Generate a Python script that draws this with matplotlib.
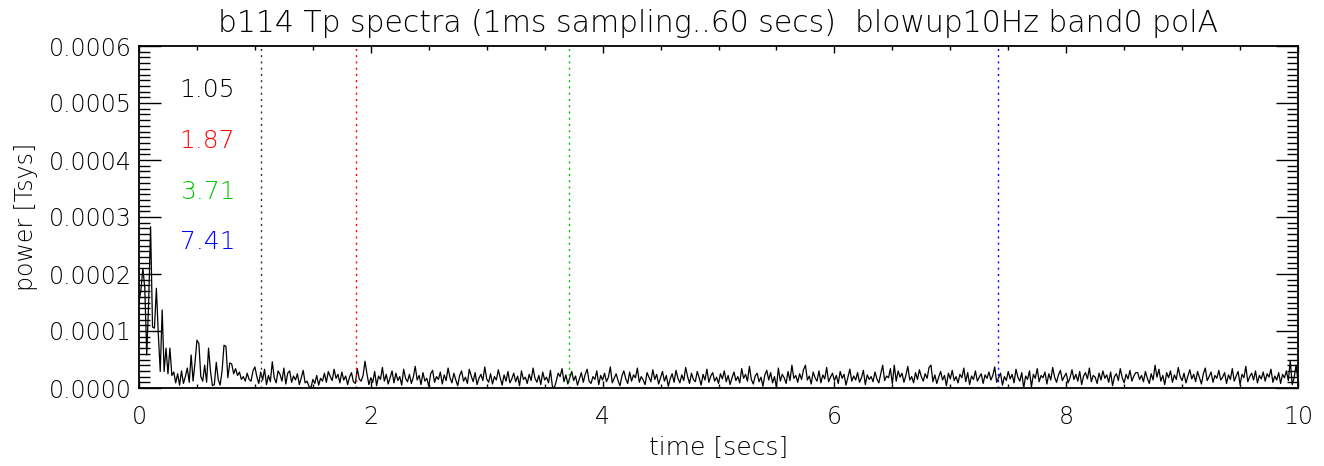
import matplotlib
matplotlib.use("Agg")
import matplotlib.pyplot as plt
from matplotlib.ticker import MultipleLocator, FormatStrFormatter
import numpy as np

freq_step = 1.0 / 60.0
power_e6 = [
    150, 172, 210, 175, 58, 150, 283, 107, 105, 175, 95, 29, 137, 29, 70, 25, 70, 22, 28, 9,
    25, 5, 30, 8, 20, 35, 10, 58, 12, 45, 84, 78, 20, 12, 40, 10, 70, 30, 4, 6,
    45, 15, 5, 30, 75, 73, 18, 44, 42, 25, 34, 22, 28, 15, 20, 12, 26, 15, 12, 30,
    37,
    20, 8, 28, 14, 33, 6, 22, 11, 46, 18, 9, 30, 24, 12, 35, 7, 26, 30, 10, 21,
    14, 25, 6, 18, 31, 9, 12, 3, 0, 15, 8, 22, 5, 17, 12, 26, 10, 29, 20, 13,
    33, 17, 24, 9, 28, 14, 21, 6, 19, 27, 11, 8, 34, 16, 12, 22, 47, 25, 6, 18,
    10, 29, 4, 21, 15, 36, 12, 24, 7, 18, 30, 9, 26, 13, 20, 5, 33, 17, 11, 24,
    8, 19, 38, 14, 22, 6, 27, 12, 17, 3, 25, 31, 10, 20, 15, 28, 7, 23, 13, 35,
    18, 9, 26, 14, 4, 22, 30, 12, 19, 8, 33, 21, 11, 27, 6, 17, 24, 13, 37, 16,
    10, 25, 7, 20, 14, 32, 18, 5, 23, 12, 29, 9, 16, 26, 11, 21, 4, 30, 15, 19,
    8, 24, 13, 35, 17, 10, 22, 6, 28, 14, 19, 9, 31, 3, 0, 12, 26, 20, 34, 11,
    23, 7, 18, 29, 13, 21, 5, 16, 27, 10, 24, 33, 12, 8, 20, 15, 30, 6, 22, 14,
    26, 11, 19, 37, 9, 17, 25, 13, 4, 21, 30, 16, 8, 28, 12, 23, 18, 35, 10, 20,
    14, 6, 27, 19, 11, 32, 15, 24, 7, 18, 29, 12, 22, 3, 16, 25, 10, 31, 17, 9,
    23, 13, 36, 20, 8, 26, 15, 11, 29, 18, 5, 24, 14, 33, 10, 21, 27, 12, 19, 8,
    25, 16, 30, 11, 22, 6, 18, 28, 13, 20, 9, 34, 17, 24, 12, 38, 15, 7, 21, 26,
    11, 19, 3, 23, 31, 14, 27, 9, 20, 1, 35, 12, 24, 18, 8, 29, 13, 40, 17, 22,
    10, 25, 15, 32, 40, 14, 21, 7, 28, 18, 12, 30, 9, 23, 16, 36, 11, 19, 26, 13,
    22, 8, 29, 17, 24, 5, 19, 33, 12, 21, 14, 27, 10, 18, 31, 6, 23, 15, 20, 11,
    28, 16, 9, 25, 40, 13, 21, 18, 34, 7, 40, 12, 30, 19, 26, 10, 22, 38, 14, 20,
    9, 27, 15, 32, 20, 12, 25, 17, 36, 40, 11, 23, 8, 19, 29, 14, 22, 4, 26, 16,
    31, 13, 20, 9, 24, 18, 35, 11, 27, 6, 21, 15, 30, 12, 19, 25, 8, 23, 17, 28,
    14, 22, 37, 10, 18, 26, 5, 20, 13, 29, 16, 24, 9, 33, 19, 12, 27, 0, 21, 15,
    30, 2, 24, 17, 34, 11, 22, 18, 28, 7, 25, 14, 36, 19, 10, 23, 31, 13, 20, 26,
    9, 18, 32, 15, 24, 12, 29, 6, 21, 27, 16, 35, 11, 22, 19, 8, 26, 14, 30, 17,
    23, 10, 28, 4, 20, 25, 13, 34, 18, 9, 24, 16, 31, 12, 21, 27, 27, 15, 22, 11,
    29, 17, 8, 25, 14, 40, 19, 33, 12, 22, 6, 27, 18, 30, 10, 23, 15, 36, 20, 13,
    26, 9, 21, 32, 16, 24, 11, 29, 18, 7, 25, 35, 13, 20, 28, 10, 22, 17, 31, 14,
    19, 27, 8, 23, 15, 34, 12, 21, 29, 6, 24, 18, 38, 11, 20, 26, 14, 30, 9, 22,
    16, 28, 12, 25, 19, 33, 10, 21, 14, 27, 8, 24, 18, 30, 13, 48, 6, 18, 40, 12,
]

marker_times = [1.05, 1.87, 3.71, 7.41]
marker_colors = ["black", "#ff0000", "#00c800", "#0000ff"]
line_colors = ["#303030", "#ff0000", "#00c000", "#0000ff"]

title = "b114 Tp spectra (1ms sampling..60 secs)  blowup10Hz band0 polA"

freq = np.arange(len(power_e6)) * freq_step
power = np.array(power_e6) * 1e-6

plt.rcParams["font.family"] = ["DejaVu Sans"]
plt.rcParams["font.weight"] = "light"
plt.rcParams["axes.titleweight"] = "light"
plt.rcParams["axes.labelweight"] = "light"

fig = plt.figure(figsize=(13.24, 4.66), dpi=100)
ax = fig.add_axes([139 / 1324, 78 / 466, 1159 / 1324, 342 / 466])

ax.plot(freq, power, color="black", lw=0.9)

for t, c in zip(marker_times, line_colors):
    ax.axvline(t, color=c, lw=1.0, linestyle=(0, (1.5, 3)))

for k, (t, c) in enumerate(zip(marker_times, marker_colors)):
    ax.text(0.035, 0.87 - k * 0.148, f"{t:.2f}", color=c, fontsize=18,
            transform=ax.transAxes, ha="left", va="center")

ax.set_xlim(0, 10)
ax.set_ylim(0, 0.0006)
ax.xaxis.set_major_locator(MultipleLocator(2))
ax.xaxis.set_minor_locator(MultipleLocator(0.5))
ax.yaxis.set_major_locator(MultipleLocator(0.0001))
ax.yaxis.set_minor_locator(MultipleLocator(0.00001))
ax.yaxis.set_major_formatter(FormatStrFormatter("%.4f"))

ax.tick_params(which="both", direction="in", top=True, right=True,
               labelsize=17, colors="black")
ax.tick_params(axis="y", which="major", length=16, width=1.0, pad=5)
ax.tick_params(axis="y", which="minor", length=8, width=1.0)
ax.tick_params(axis="x", which="major", length=5, width=1.0, pad=12)
ax.tick_params(axis="x", which="minor", length=3, width=1.0)

yt = ax.yaxis.get_major_ticks()
yt[0].label1.set_va("baseline")
yt[-1].label1.set_va("top")

for s in ax.spines.values():
    s.set_linewidth(1.3)

ax.set_title(title, fontsize=21.5, color="black", pad=10)
ax.set_xlabel("time [secs]", fontsize=18, color="black", labelpad=5)
ax.set_ylabel("power [Tsys]", fontsize=17, color="black", labelpad=8)

fig.savefig("out.png", dpi=100)
